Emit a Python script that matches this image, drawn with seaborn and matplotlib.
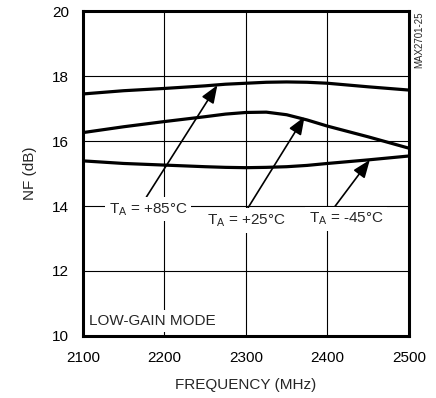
import matplotlib
matplotlib.use("Agg")
import matplotlib.pyplot as plt
import seaborn as sns
import pandas as pd

freq = [2100, 2150, 2200, 2250, 2275, 2300, 2325, 2350, 2375, 2400, 2450, 2500]
nf_85 = [17.45, 17.55, 17.62, 17.70, 17.75, 17.78, 17.81, 17.82, 17.81, 17.78, 17.67, 17.57]
nf_25 = [16.26, 16.44, 16.60, 16.75, 16.83, 16.88, 16.89, 16.81, 16.65, 16.46, 16.13, 15.78]
nf_m45 = [15.39, 15.31, 15.26, 15.21, 15.19, 15.18, 15.19, 15.21, 15.25, 15.31, 15.42, 15.54]

x_ticks = [2100, 2200, 2300, 2400, 2500]
y_ticks = [10, 12, 14, 16, 18, 20]

df = pd.DataFrame({
    "freq": freq * 3,
    "nf": nf_85 + nf_25 + nf_m45,
    "temp": ["+85"] * len(freq) + ["+25"] * len(freq) + ["-45"] * len(freq),
})

sns.set_theme(style="white")
plt.rcParams["font.family"] = ["Liberation Sans Narrow", "Liberation Sans", "DejaVu Sans"]

fig = plt.figure(figsize=(4.36, 3.98), dpi=100)
ax = fig.add_axes([0.190, 0.156, 0.748, 0.816])

sns.lineplot(data=df, x="freq", y="nf", hue="temp", palette=["black"] * 3,
             linewidth=2.3, legend=False, ax=ax, zorder=3)

ax.set_xlim(2100, 2500)
ax.set_ylim(10, 20)
ax.set_xticks(x_ticks)
ax.set_yticks(y_ticks)
ax.set_xticklabels([str(v) for v in x_ticks], fontsize=11)
ax.set_yticklabels([str(v) for v in y_ticks], fontsize=11)
ax.tick_params(axis="x", length=0, pad=11, colors="black")
ax.tick_params(axis="y", length=0, pad=10, colors="black")
ax.grid(True, color="black", linewidth=0.8)
for s in ax.spines.values():
    s.set_linewidth(2.2)
    s.set_color("black")

ax.set_xlabel("FREQUENCY (MHz)", fontsize=11, labelpad=9)
ax.set_ylabel("NF (dB)", fontsize=11, labelpad=11)

arrow = dict(arrowstyle="-|>,head_length=0.9,head_width=0.35", color="black",
             linewidth=1.2, shrinkA=0, shrinkB=0)
box = dict(boxstyle="square,pad=0.25", facecolor="white", edgecolor="none")

ax.annotate("", xy=(2265, 17.72), xytext=(2178, 14.28), arrowprops=arrow, zorder=4)
ax.annotate("", xy=(2372, 16.75), xytext=(2301, 13.88), arrowprops=arrow, zorder=4)
ax.annotate("", xy=(2452, 15.42), xytext=(2409, 13.98), arrowprops=arrow, zorder=4)

ax.text(2180, 13.9, r"T$_\mathregular{A}$ = +85°C", ha="center", va="center",
        fontsize=11, bbox=box, zorder=5)
ax.text(2300, 13.55, r"T$_\mathregular{A}$ = +25°C", ha="center", va="center",
        fontsize=11, bbox=box, zorder=5)
ax.text(2423, 13.6, r"T$_\mathregular{A}$ = -45°C", ha="center", va="center",
        fontsize=11, bbox=box, zorder=5)
ax.text(2108, 10.45, "LOW-GAIN MODE", ha="left", va="center", fontsize=11,
        bbox=box, zorder=5)

fig.text(0.962, 0.97, "MAX2701-25", rotation=90, ha="center", va="top", fontsize=7)

fig.savefig("out.png", dpi=100)
